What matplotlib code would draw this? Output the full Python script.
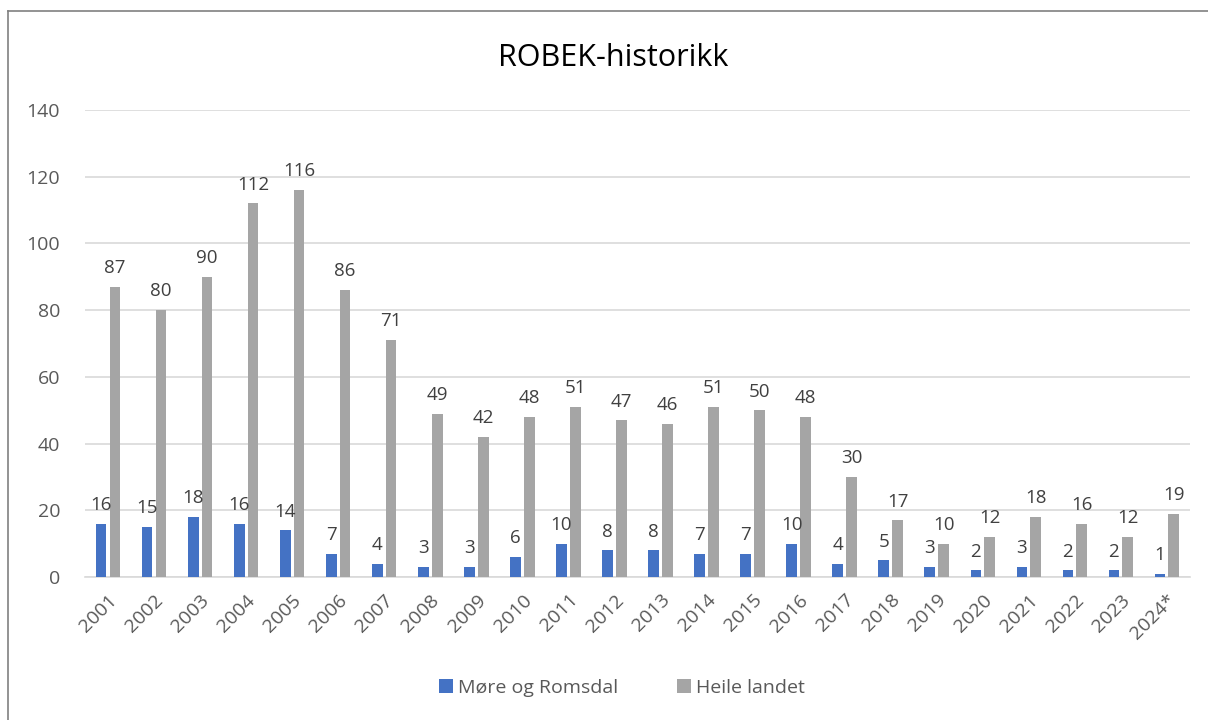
import numpy as np
import matplotlib
matplotlib.use("Agg")
import matplotlib.pyplot as plt
from matplotlib.lines import Line2D

# data
years = ["2001", "2002", "2003", "2004", "2005", "2006", "2007", "2008", "2009",
         "2010", "2011", "2012", "2013", "2014", "2015", "2016", "2017", "2018",
         "2019", "2020", "2021", "2022", "2023", "2024*"]
more_romsdal = [16, 15, 18, 16, 14, 7, 4, 3, 3, 6, 10, 8, 8, 7, 7, 10, 4, 5, 3, 2, 3, 2, 2, 1]
heile_landet = [87, 80, 90, 112, 116, 86, 71, 49, 42, 48, 51, 47, 46, 51, 50, 48, 30, 17, 10, 12, 18, 16, 12, 19]
yticks = [0, 20, 40, 60, 80, 100, 120, 140]

BLUE = "#4472C4"
GRAY = "#A5A5A5"
TXT = "#595959"

plt.rcParams["font.family"] = ["Open Sans", "DejaVu Sans"]

fig = plt.figure(figsize=(12.08, 7.2), dpi=100)
ax = fig.add_axes([0.0704, 0.1986, 0.9146, 0.6486])

x = np.arange(len(years))
w = 0.23
gap = 0.035
b1 = ax.bar(x - w / 2 - gap, more_romsdal, w, color=BLUE, label="Møre og Romsdal", zorder=3)
b2 = ax.bar(x + w / 2 + gap, heile_landet, w, color=GRAY, label="Heile landet", zorder=3)

for bars, vals in ((b1, more_romsdal), (b2, heile_landet)):
    for r, v in zip(bars, vals):
        ax.annotate(str(v), (r.get_x() + r.get_width() / 2, v),
                    xytext=(0, 7), textcoords="offset points",
                    ha="center", va="bottom", fontsize=13.5, color="#404040")

ax.set_xlim(-0.5, len(years) - 0.5)
ax.set_ylim(0, 140)
ax.set_yticks(yticks)
ax.set_xticks(x)
ax.set_xticklabels(years, rotation=45, ha="right", rotation_mode="anchor")
ax.tick_params(axis="both", length=0, labelsize=14, colors=TXT)
ax.tick_params(axis="y", pad=18)
ax.tick_params(axis="x", pad=10)
ax.grid(axis="y", color="#D9D9D9", linewidth=1.2, zorder=0)
for s in ["top", "right", "left"]:
    ax.spines[s].set_visible(False)
ax.spines["bottom"].set_color("#D9D9D9")
ax.spines["bottom"].set_linewidth(1.2)

fig.text(0.508, 0.92, "ROBEK-historikk", ha="center", va="center", fontsize=22, color="#000000")

fig.legend(handles=[b1, b2], loc="center", bbox_to_anchor=(0.515, 0.045), ncol=2,
           frameon=False, fontsize=14, handlelength=0.7, handleheight=0.7,
           columnspacing=3, handletextpad=0.3, labelcolor=TXT)

# partial chart border (left and top)
fig.add_artist(Line2D([0.0066, 0.0066], [0, 0.985], color="#808080", lw=1.2, transform=fig.transFigure))
fig.add_artist(Line2D([0.0066, 1.0], [0.985, 0.985], color="#808080", lw=1.2, transform=fig.transFigure))

fig.savefig("out.png", dpi=100)
